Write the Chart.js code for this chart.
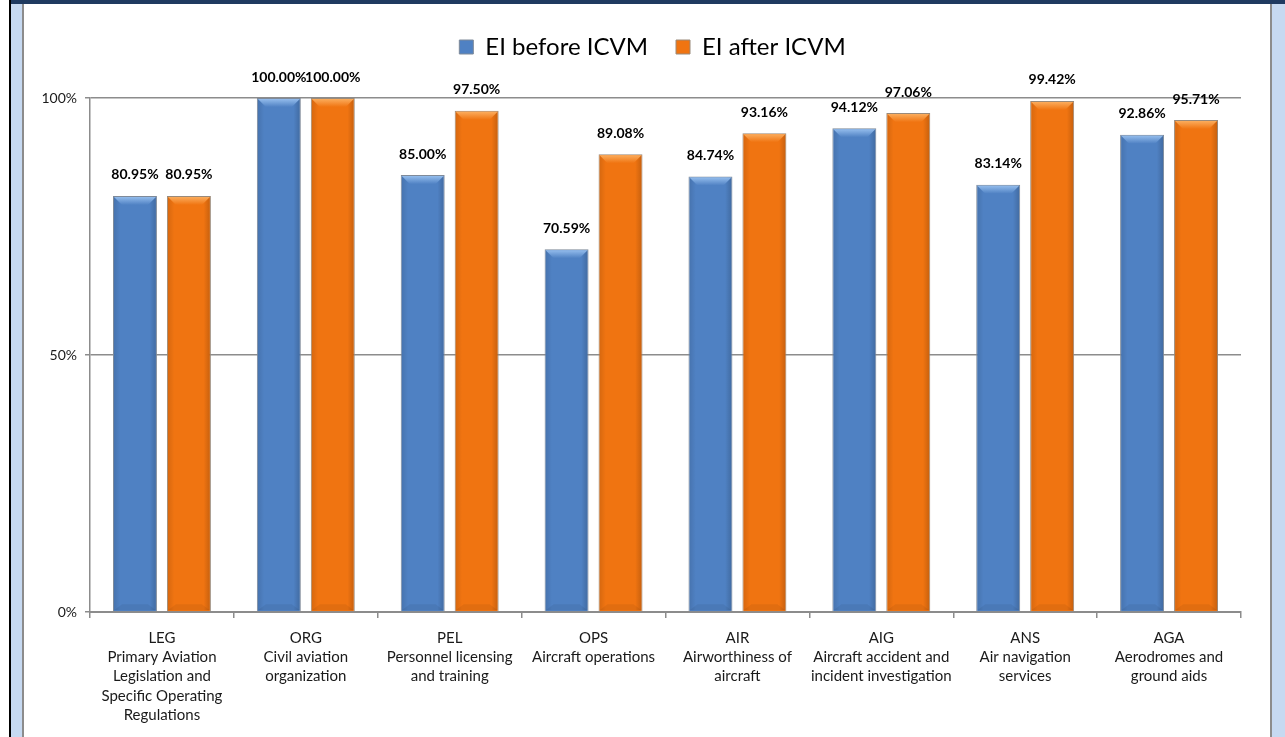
<!DOCTYPE html>
<html>
<head>
<meta charset="utf-8">
<title>EI before / after ICVM</title>
<script src="https://cdn.jsdelivr.net/npm/chart.js@4.4.1/dist/chart.umd.min.js"></script>
<style>
  html, body { margin: 0; padding: 0; background: #fff; }
  body { width: 1285px; height: 737px; position: relative; overflow: hidden; }
  #edgeDark { position: absolute; left: 9px; top: 0; width: 2px; height: 737px; background: #000; }
  #edgeLeft { position: absolute; left: 11px; top: 0; width: 11px; height: 737px; background: #c6d9f1; }
  #edgeTop { position: absolute; left: 11px; top: 0; width: 1274px; height: 4px; background: #1f3a60; }
  #panel { position: absolute; left: 22px; top: 4px; width: 1250px; height: 733px; background: #fff;
           border-left: 2px solid #8c8c8c; border-right: 2px solid #8c8c8c; box-sizing: border-box; }
  #edgeRight { position: absolute; left: 1272px; top: 4px; width: 13px; height: 733px; background: #c6d9f1; }
  #chart { position: absolute; left: 24px; top: 4px; }
</style>
</head>
<body>
<div id="edgeDark"></div>
<div id="edgeLeft"></div>
<div id="edgeTop"></div>
<div id="panel"></div>
<div id="edgeRight"></div>
<canvas id="chart" width="1246" height="733"></canvas>

<script>
// Categories (audit areas) and effective implementation values
const categories = [
    ['LEG', 'Primary Aviation', 'Legislation and', 'Specific Operating', 'Regulations'],
    ['ORG', 'Civil aviation', 'organization'],
    ['PEL', 'Personnel licensing', 'and training'],
    ['OPS', 'Aircraft operations'],
    ['AIR', 'Airworthiness of', 'aircraft'],
    ['AIG', 'Aircraft accident and', 'incident investigation'],
    ['ANS', 'Air navigation', 'services'],
    ['AGA', 'Aerodromes and', 'ground aids']
];
const seriesNames = ['EI before ICVM', 'EI after ICVM'];
const eiBefore = [80.95, 100.00, 85.00, 70.59, 84.74, 94.12, 83.14, 92.86];
const eiAfter  = [80.95, 100.00, 97.50, 89.08, 93.16, 97.06, 99.42, 95.71];
const yTicks = [0, 50, 100];

const FONT = 'Lato, "Open Sans", "DejaVu Sans", sans-serif';
const bodyColors  = ['#4f81c3', '#f07411'];
const bevelColors = ['#93bcec', '#fbac5c'];

// legend: reserve room above the plot and nudge it to the right a bit
const legendSpace = {
    id: 'legendSpace',
    beforeUpdate(chart) {
        const lg = chart.legend;
        if (lg && !lg._wrapped) {
            const fit = lg.fit;
            lg.fit = function () { fit.call(this); this.height = 91; };
            lg._wrapped = true;
        }
    },
    afterLayout(chart) {
        const lg = chart.legend;
        if (lg) { lg.left += 40; lg.width = lg.right - lg.left; }
    }
};

// fake 3D bevel on each bar
const bevel = {
    id: 'bevel',
    afterDatasetsDraw(chart) {
        const ctx = chart.ctx;
        chart.data.datasets.forEach((ds, i) => {
            chart.getDatasetMeta(i).data.forEach(bar => {
                const p = bar.getProps(['x', 'y', 'base', 'width'], true);
                const l = p.x - p.width / 2 + 1, r = p.x + p.width / 2 - 1;
                const t = p.y + 1, b = p.base - 1;
                const d = 8;
                ctx.save();
                let g = ctx.createLinearGradient(l, 0, r, 0);
                g.addColorStop(0, 'rgba(0,0,0,0.10)');
                g.addColorStop(0.15, 'rgba(0,0,0,0)');
                g.addColorStop(0.85, 'rgba(0,0,0,0)');
                g.addColorStop(1, 'rgba(0,0,0,0.16)');
                ctx.fillStyle = g;
                ctx.fillRect(l, t, r - l, b - t);
                ctx.fillStyle = 'rgba(0,0,0,0.06)';
                ctx.beginPath();
                ctx.moveTo(l, b); ctx.lineTo(r, b); ctx.lineTo(r - d, b - 6); ctx.lineTo(l + d, b - 6);
                ctx.closePath(); ctx.fill();
                g = ctx.createLinearGradient(0, t, 0, t + d);
                g.addColorStop(0, bevelColors[i]);
                g.addColorStop(1, bodyColors[i]);
                ctx.fillStyle = g;
                ctx.beginPath();
                ctx.moveTo(l, t); ctx.lineTo(r, t); ctx.lineTo(r - d, t + d); ctx.lineTo(l + d, t + d);
                ctx.closePath(); ctx.fill();
                ctx.restore();
            });
        });
    }
};

// value labels above bars
const valueLabels = {
    id: 'valueLabels',
    afterDatasetsDraw(chart) {
        const ctx = chart.ctx;
        ctx.save();
        ctx.font = 'bold 14px ' + FONT;
        ctx.fillStyle = '#000';
        ctx.textAlign = 'center';
        ctx.textBaseline = 'middle';
        chart.data.datasets.forEach((ds, i) => {
            chart.getDatasetMeta(i).data.forEach((bar, j) => {
                ctx.fillText(ds.data[j].toFixed(2) + '%', bar.x, bar.y - 21);
            });
        });
        ctx.restore();
    }
};

new Chart(document.getElementById('chart'), {
    type: 'bar',
    data: {
        labels: categories,
        datasets: [
            { label: seriesNames[0], data: eiBefore, backgroundColor: bodyColors[0],
              borderColor: '#7f8a99', borderWidth: 1 },
            { label: seriesNames[1], data: eiAfter, backgroundColor: bodyColors[1],
              borderColor: '#9a8a7a', borderWidth: 1 }
        ]
    },
    options: {
        responsive: false,
        animation: false,
        layout: { padding: { top: 3, right: 29, left: 0, bottom: 0 } },
        datasets: { bar: { categoryPercentage: 0.75, barPercentage: 0.815 } },
        plugins: {
            legend: {
                position: 'top',
                labels: {
                    font: { family: FONT, size: 24 },
                    color: '#000',
                    boxWidth: 14,
                    boxHeight: 14,
                    padding: 28
                }
            },
            tooltip: { enabled: false }
        },
        scales: {
            x: {
                offset: true,
                afterFit: s => { s.height = 125; },
                grid: { offset: true, drawOnChartArea: false, drawTicks: true, tickLength: 6,
                        color: '#8c8c8c', lineWidth: 1.5 },
                border: { color: '#8c8c8c', width: 2 },
                ticks: { font: { family: FONT, size: 15, lineHeight: 1.27 }, color: '#1a1a1a',
                         padding: 11, maxRotation: 0, autoSkip: false }
            },
            y: {
                min: 0,
                max: 100,
                afterFit: s => { s.width = 66; },
                afterBuildTicks: s => { s.ticks = yTicks.map(v => ({ value: v })); },
                grid: { color: '#8c8c8c', lineWidth: 1.5, tickLength: 5 },
                border: { color: '#8c8c8c', width: 1.5 },
                ticks: { font: { family: FONT, size: 14 }, color: '#1a1a1a', padding: 8,
                         callback: v => v + '%' }
            }
        }
    },
    plugins: [legendSpace, bevel, valueLabels]
});
</script>
</body>
</html>
